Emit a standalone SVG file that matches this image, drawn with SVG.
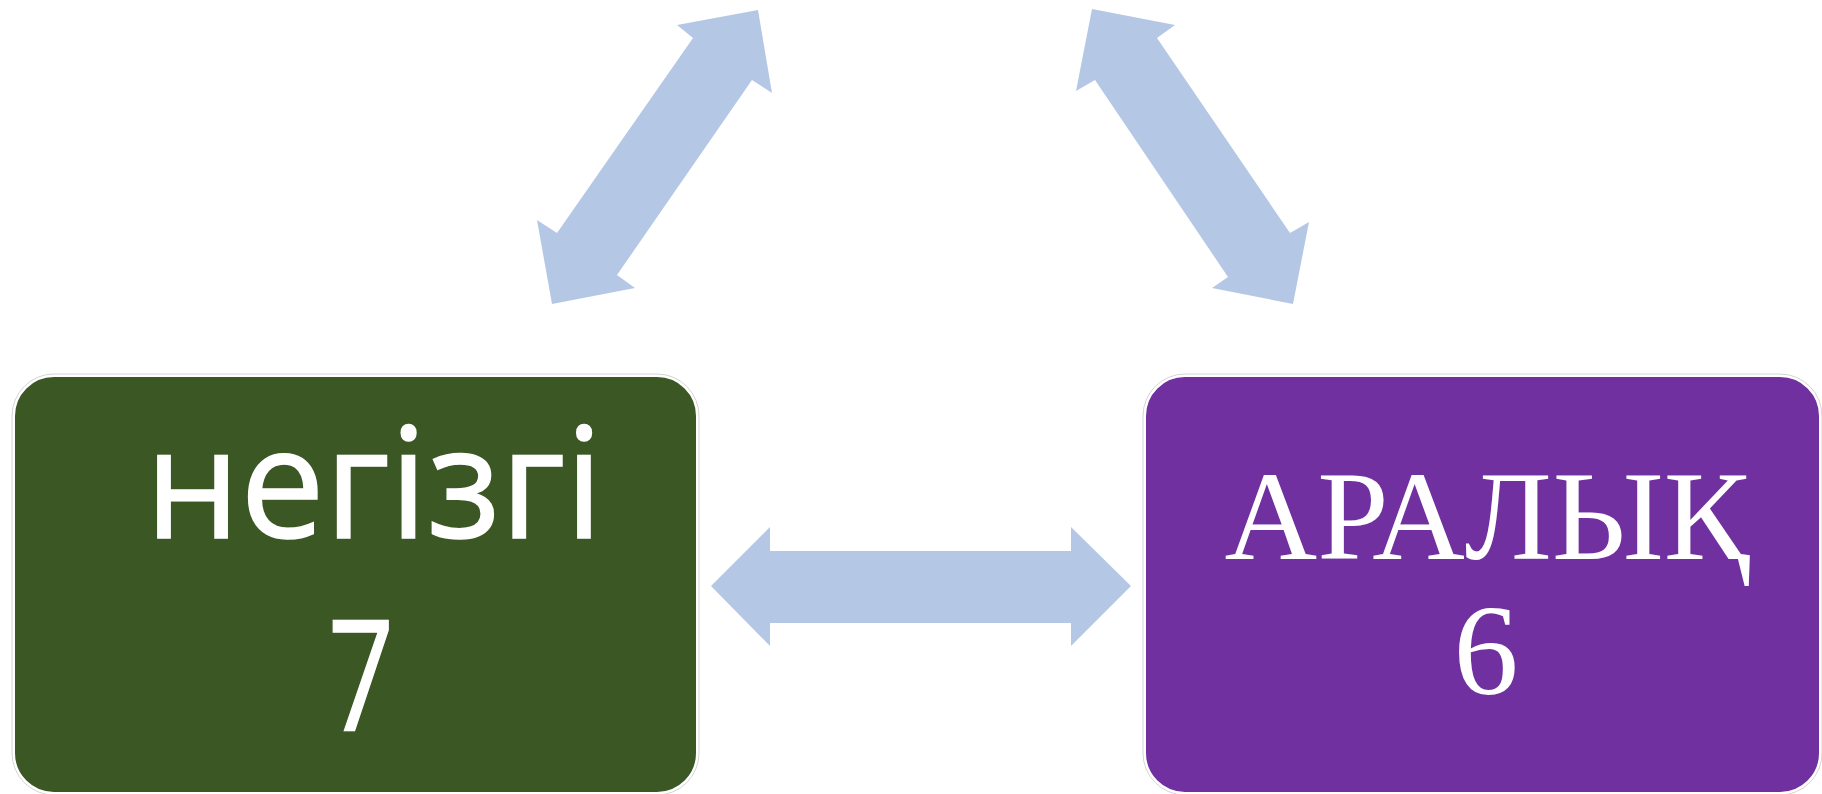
<svg xmlns="http://www.w3.org/2000/svg" width="1822" height="794" viewBox="0 0 1822 794">
  <style>
    .box { stroke: #ffffff; stroke-width: 2; }
    .halo { fill: none; stroke: #d4d4d4; stroke-width: 1; }
    .arrow { fill: #b4c8e6; }
    .sans { font-family: "Open Sans", "Noto Sans", "Liberation Sans", sans-serif; fill: #ffffff; stroke: #ffffff; stroke-width: 1.5; text-anchor: middle; }
    .serif { font-family: "Liberation Serif", "Times New Roman", serif; fill: #ffffff; text-anchor: middle; }
  </style>
  <rect width="1822" height="794" fill="#ffffff"/>
  <g id="connectors">
    <polygon class="arrow" points="758,10 772,93 752,80 617,275 635,288 552,304 537,220 557,233 693,38 677,25"/>
    <polygon class="arrow" points="1092,9 1175,25 1157,38 1290,233 1309,222 1293,304 1212,288 1228,277 1095,80 1076,91"/>
    <polygon class="arrow" points="711,586 770,527 770,551 1071,551 1071,527 1131,586 1071,646 1071,623 770,623 770,646"/>
  </g>
  <g id="node-negizgi">
    <rect class="halo" x="12" y="374" width="687" height="421" rx="42"/>
    <rect class="box" x="14" y="376" width="683" height="417" rx="40" fill="#3b5724"/>
    <text class="sans" x="374" y="538" font-size="153" textLength="458" lengthAdjust="spacingAndGlyphs">негізгі</text>
    <text class="sans" x="361" y="731" font-size="153" textLength="66" lengthAdjust="spacingAndGlyphs">7</text>
  </g>
  <g id="node-aralyk">
    <rect class="halo" x="1143" y="374" width="679" height="421" rx="42"/>
    <rect class="box" x="1145" y="376" width="675" height="417" rx="40" fill="#7030a0"/>
    <text class="serif" x="1487" y="559" font-size="127" textLength="525" lengthAdjust="spacingAndGlyphs">АРАЛЫҚ</text>
    <text class="serif" x="1486" y="694" font-size="130">6</text>
  </g>
</svg>
